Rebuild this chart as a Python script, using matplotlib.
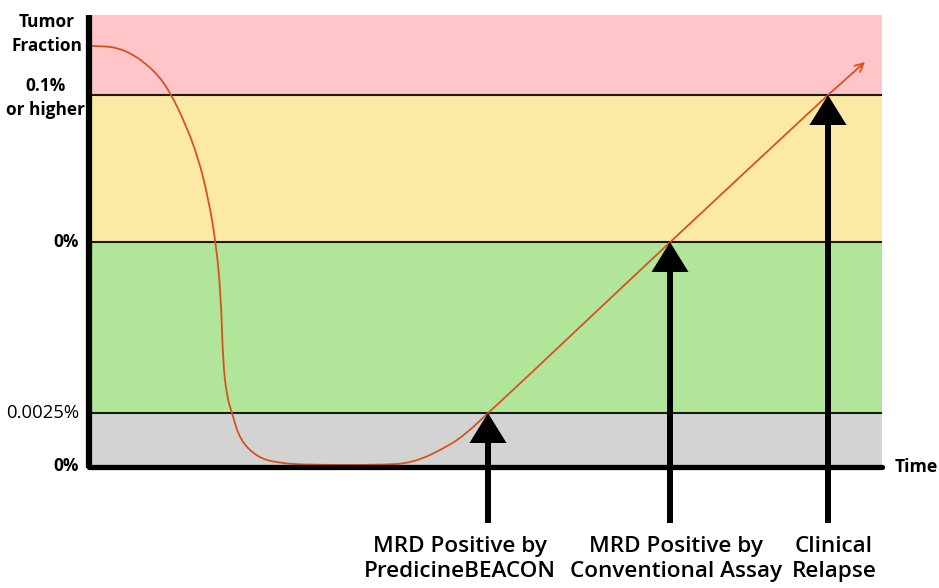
import numpy as np
import matplotlib.pyplot as plt
from matplotlib.patches import FancyArrow, PathPatch
from matplotlib.path import Path

plt.rcParams["font.family"] = ["Open Sans", "DejaVu Sans"]

# Tumor fraction bands (display units, bottom -> top)
band_edges = [0, 53, 224, 371, 451]
band_colors = ["#d3d3d3", "#b1e59a", "#fde9a6", "#ffc5c8"]
band_labels = ["0%", "0.0025%", "0%", "0.1%\nor higher"]
band_bold = [True, False, True, True]

# Tumor fraction over time (display units)
time = [0, 14, 29, 43, 56, 70, 82, 96, 109, 119, 127, 132, 134, 138, 143,
        151, 168, 188, 221, 291, 324, 358, 378, 399, 421, 581, 739]
fraction = [420, 420, 418, 412, 403, 390, 372, 343, 309, 269, 223, 169, 103,
            69, 53, 26, 9, 3, 1, 1, 3, 19, 33, 53, 73, 224, 371]
arrow_tip = (776, 404)

# Detection events
event_time = [399, 581, 739]
event_level = [53, 224, 371]
event_labels = ["MRD Positive by\nPredicineBEACON",
                "MRD Positive by\nConventional Assay",
                "Clinical\nRelapse"]
event_label_x = [460, 676, 834]

fig = plt.figure(figsize=(9.39, 5.88), dpi=100)
ax = fig.add_axes([89 / 939, 122 / 588, 793 / 939, 451 / 588])
ax.set_xlim(0, 793)
ax.set_ylim(0, 451)
ax.axis("off")

# Bands
for i, c in enumerate(band_colors):
    ax.axhspan(band_edges[i], band_edges[i + 1], color=c, lw=0, zorder=0)
for y in band_edges[1:-1]:
    ax.axhline(y, color="#1a1a1a", lw=1.5, zorder=1)

# Axes lines
ax.plot([0, 0], [-2, 451], color="black", lw=4.5, solid_capstyle="butt",
        zorder=5, clip_on=False)
ax.plot([0, 793], [-1, -1], color="black", lw=3.8, solid_capstyle="round",
        zorder=5, clip_on=False)

# Tumor fraction curve, smoothed with quadratic segments through midpoints
line_color = "#d4541c"
pts = np.column_stack([time, fraction]).astype(float)
verts = [pts[0]]
codes = [Path.MOVETO]
for i in range(1, len(pts) - 1):
    verts += [pts[i], (pts[i] + pts[i + 1]) / 2]
    codes += [Path.CURVE3, Path.CURVE3]
verts.append(pts[-1])
codes.append(Path.LINETO)
ax.add_patch(PathPatch(Path(verts, codes), fill=False, edgecolor=line_color,
                       lw=1.3, zorder=3))
ax.annotate("", xy=arrow_tip, xytext=(time[-1], fraction[-1]),
            arrowprops=dict(arrowstyle="->,head_length=0.6,head_width=0.3",
                            color=line_color, lw=1.3, shrinkA=0, shrinkB=0),
            zorder=3)

# Event arrows
for x, lvl in zip(event_time, event_level):
    bottom = -57
    ax.add_patch(FancyArrow(x, bottom, 0, lvl - bottom, width=6,
                            head_width=37, head_length=30,
                            length_includes_head=True, color="black",
                            lw=0, zorder=4, clip_on=False))

for x, txt in zip(event_label_x, event_labels):
    ax.text(x - 89, -70, txt, ha="center", va="top", fontsize=16.2,
            fontweight="semibold", linespacing=1.26, clip_on=False)

# Y labels
for y, txt, b in zip(band_edges[:-1], band_labels, band_bold):
    multi = "\n" in txt
    ax.text(-44 if multi else -10, y - 3 if multi else y, txt,
            ha="center" if multi else "right", va="center",
            fontsize=12.4 if b else 13.3,
            fontweight="bold" if b else "normal",
            linespacing=1.38, multialignment="center", clip_on=False)
ax.text(-42, 432, "Tumor\nFraction", ha="center", va="center", fontsize=12.4,
        fontweight="bold", linespacing=1.38, clip_on=False)
ax.text(806, -1, "Time", ha="left", va="center", fontsize=12.6,
        fontweight="bold", clip_on=False)

fig.savefig("out.png", dpi=100)
